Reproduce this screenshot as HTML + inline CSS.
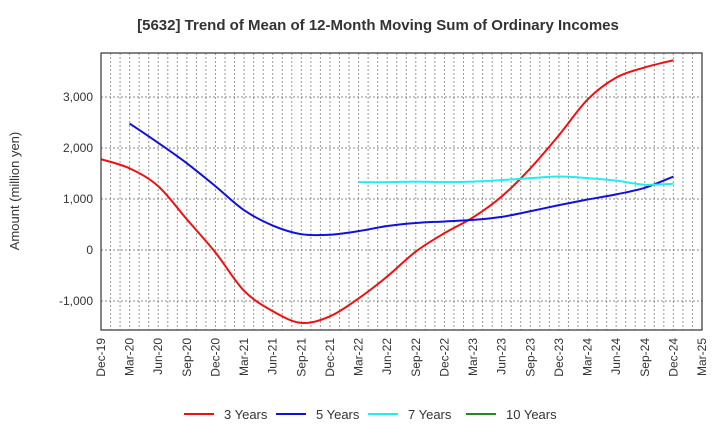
<!DOCTYPE html>
<html><head><meta charset="utf-8"><style>
body{margin:0;background:#fff;font-family:"Liberation Sans",sans-serif;}
svg text{font-family:"Liberation Sans",sans-serif;}
</style></head><body>
<svg id="chart" width="720" height="440" xmlns="http://www.w3.org/2000/svg">
<text x="378" y="30" text-anchor="middle" font-size="15" font-weight="bold" fill="#333">[5632]  Trend of Mean of 12-Month Moving Sum of Ordinary Incomes</text>
<text transform="translate(19,191) rotate(-90)" text-anchor="middle" font-size="13" fill="#333">Amount (million yen)</text>
<g id="grid"></g><g id="series"></g><g id="axes"></g><g id="legend"></g>
</svg>
<script>
const xLabels=["Dec-19","Mar-20","Jun-20","Sep-20","Dec-20","Mar-21","Jun-21","Sep-21","Dec-21","Mar-22","Jun-22","Sep-22","Dec-22","Mar-23","Jun-23","Sep-23","Dec-23","Mar-24","Jun-24","Sep-24","Dec-24","Mar-25"];
const yTicks=[-1000,0,1000,2000,3000];
const yTickLabels=["-1,000","0","1,000","2,000","3,000"];
const s3=[1780,1600,1250,600,-50,-800,-1200,-1430,-1300,-950,-520,-30,330,640,1050,1600,2250,2950,3380,3580,3720];
const s5=[null,2480,2100,1700,1250,780,480,310,300,370,470,530,560,590,650,760,880,990,1090,1220,1440];
const s7=[null,null,null,null,null,null,null,null,null,1330,1330,1340,1330,1340,1370,1410,1440,1410,1360,1280,1300];
const s10=[];
const seriesNames=["3 Years","5 Years","7 Years","10 Years"];
const colors=["#ee1111","#1111dd","#22eeee","#228822"];
const L=101,R=702,T=53,B=330;
const months=63;
const xm=m=>L+(R-L)*m/months;
const xq=i=>xm(i*3);
const y=v=>250-v*0.051;
const NS="http://www.w3.org/2000/svg";
function mk(tag,attrs,parent){const e=document.createElementNS(NS,tag);for(const k in attrs)e.setAttribute(k,attrs[k]);parent.appendChild(e);return e;}
const grid=document.getElementById('grid');
for(let m=1;m<months;m++){
 const l=mk('line',{x1:xm(m),x2:xm(m),y1:T,y2:B,stroke:'#999','stroke-dasharray':'2,2','stroke-width':1},grid);
 
 
}
const axes=document.getElementById('axes');
yTicks.forEach((v,i)=>{
 const l=mk('line',{x1:L,x2:R,y1:y(v),y2:y(v),stroke:'#888','stroke-dasharray':'2,2'},grid);
 
 
 const t=mk('text',{x:L-8,y:y(v)+4,'text-anchor':'end','font-size':12,fill:'#333'},axes);
 t.textContent=yTickLabels[i];
 
 
});
xLabels.forEach((s,i)=>{
 const t=mk('text',{transform:`translate(${xq(i)+4},338) rotate(-90)`,'text-anchor':'end','font-size':12,fill:'#333'},axes);
 t.textContent=s;
 
 
});
const fr=mk('rect',{x:L,y:T,width:R-L,height:B-T,fill:'none',stroke:'#333','stroke-width':1.2},axes);


function pathFor(arr){
 const pts=[];arr.forEach((v,i)=>{if(v!==null&&v!==undefined)pts.push([xq(i),y(v)]);});
 if(pts.length<2)return '';
 let d=`M${pts[0][0]},${pts[0][1]}`;
 for(let i=0;i<pts.length-1;i++){
  const p0=pts[Math.max(0,i-1)],p1=pts[i],p2=pts[i+1],p3=pts[Math.min(pts.length-1,i+2)];
  const c1=[p1[0]+(p2[0]-p0[0])/6,p1[1]+(p2[1]-p0[1])/6],c2=[p2[0]-(p3[0]-p1[0])/6,p2[1]-(p3[1]-p1[1])/6];
  d+=`C${c1[0]},${c1[1]} ${c2[0]},${c2[1]} ${p2[0]},${p2[1]}`;
 }
 return d;
}
const sg=document.getElementById('series');
const names=['line-3-years','line-5-years','line-7-years','line-10-years'];
[s3,s5,s7,s10].forEach((arr,k)=>{
 const d=pathFor(arr);if(!d)return;
 const p=mk('path',{d:d,fill:'none',stroke:colors[k],'stroke-width':2},sg);
 
 
});
const lg=document.getElementById('legend');
const lx=[184,276,368,466];
seriesNames.forEach((n,k)=>{
 const g=mk('g',{},lg);
 
 
 mk('line',{x1:lx[k],x2:lx[k]+30,y1:414,y2:414,stroke:colors[k],'stroke-width':2},g);
 const t=mk('text',{x:lx[k]+40,y:419,'font-size':13,fill:'#333'},g);
 t.textContent=n;
});
</script>
</body></html>
